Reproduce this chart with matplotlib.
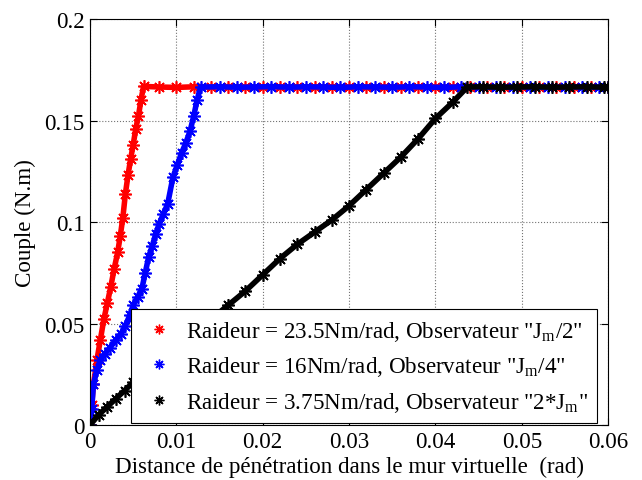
import matplotlib
matplotlib.use("Agg")
import matplotlib.pyplot as plt
from matplotlib.lines import Line2D

plt.rcParams['font.family'] = ['Liberation Serif', 'DejaVu Serif']
plt.rcParams['mathtext.fontset'] = 'custom'
plt.rcParams['mathtext.rm'] = 'Liberation Serif'
plt.rcParams['mathtext.it'] = 'Liberation Serif'

# data
red_x = [0, 0.0002, 0.0004, 0.0008, 0.0012, 0.0016, 0.0020, 0.0024, 0.0028, 0.0032,
         0.0035, 0.0038, 0.0041, 0.0044, 0.0047, 0.0050, 0.0053, 0.0056, 0.0059, 0.0062,
         0.0080, 0.0100, 0.0120, 0.0140, 0.0160, 0.0180, 0.0200, 0.0220, 0.0240, 0.0260,
         0.0280, 0.0300, 0.0320, 0.0340, 0.0360, 0.0380, 0.0400, 0.0420, 0.0440, 0.0460,
         0.0480, 0.0500, 0.0520, 0.0540, 0.0560, 0.0580, 0.0600]
red_y = [0, 0.010, 0.020, 0.032, 0.042, 0.052, 0.060, 0.068, 0.077, 0.085,
         0.093, 0.102, 0.114, 0.123, 0.131, 0.138, 0.146, 0.152, 0.160, 0.1668,
         0.1665, 0.1663, 0.1666, 0.1664, 0.1667, 0.1665, 0.1663, 0.1666, 0.1665, 0.1664,
         0.1666, 0.1665, 0.1663, 0.1666, 0.1665, 0.1664, 0.1666, 0.1665, 0.1663, 0.1666,
         0.1665, 0.1664, 0.1666, 0.1665, 0.1663, 0.1666, 0.1665]

blue_x = [0, 0.0002, 0.0004, 0.0008, 0.0012, 0.0017, 0.0023, 0.0030, 0.0036, 0.0041,
          0.0046, 0.0050, 0.0055, 0.0060, 0.0064, 0.0068, 0.0072, 0.0076, 0.0080, 0.0085,
          0.0090, 0.0096, 0.0101, 0.0106, 0.0111, 0.0116, 0.0120, 0.0124, 0.0128,
          0.0150, 0.0170, 0.0190, 0.0210, 0.0230, 0.0250, 0.0270, 0.0290, 0.0310, 0.0330,
          0.0350, 0.0370, 0.0390, 0.0410, 0.0430, 0.0450, 0.0470, 0.0490, 0.0510, 0.0530,
          0.0550, 0.0570, 0.0590, 0.0600]
blue_y = [0, 0.008, 0.020, 0.027, 0.032, 0.035, 0.038, 0.042, 0.045, 0.049,
          0.054, 0.059, 0.063, 0.067, 0.075, 0.083, 0.088, 0.094, 0.099, 0.104,
          0.109, 0.122, 0.128, 0.134, 0.139, 0.145, 0.152, 0.160, 0.1665,
          0.1666, 0.1664, 0.1665, 0.1667, 0.1664, 0.1666, 0.1665, 0.1663, 0.1666, 0.1665,
          0.1664, 0.1666, 0.1665, 0.1663, 0.1666, 0.1665, 0.1664, 0.1666, 0.1665, 0.1663,
          0.1666, 0.1665, 0.1664, 0.1665]

black_x = [0, 0.0010, 0.0020, 0.0030, 0.0040, 0.0050, 0.0060, 0.0080, 0.0100, 0.0120,
           0.0140, 0.0160, 0.0180, 0.0200, 0.0220, 0.0240, 0.0260, 0.0280, 0.0300, 0.0320,
           0.0340, 0.0360, 0.0380, 0.0400, 0.0420, 0.0437, 0.0455, 0.0475, 0.0495, 0.0515,
           0.0535, 0.0555, 0.0575, 0.0595, 0.0600]
black_y = [0, 0.005, 0.009, 0.013, 0.017, 0.021, 0.024, 0.031, 0.038, 0.045,
           0.052, 0.059, 0.066, 0.074, 0.082, 0.089, 0.095, 0.101, 0.108, 0.116,
           0.124, 0.132, 0.141, 0.151, 0.159, 0.1665, 0.1666, 0.1664, 0.1665, 0.1666,
           0.1664, 0.1665, 0.1666, 0.1664, 0.1665]

labels = ['Raideur = 23.5Nm/rad, Observateur "J$_{\\rm m}$/2"',
          'Raideur = 16Nm/rad, Observateur "J$_{\\rm m}$/4"',
          'Raideur = 3.75Nm/rad, Observateur "2*J$_{\\rm m}$"']
colors = ['#ff0000', '#0000ff', '#000000']
x_ticks = [0, 0.01, 0.02, 0.03, 0.04, 0.05, 0.06]
x_ticklabels = ['0', '0.01', '0.02', '0.03', '0.04', '0.05', '0.06']
y_ticks = [0, 0.05, 0.1, 0.15, 0.2]
y_ticklabels = ['0', '0.05', '0.1', '0.15', '0.2']

star = (8, 2, 0)
FS = 16.6

fig = plt.figure(figsize=(6.42, 4.81), dpi=100)
ax = fig.add_axes([0.1402, 0.1143, 0.807, 0.8441])

for xs, ys, c in zip([red_x, blue_x, black_x], [red_y, blue_y, black_y], colors):
    ax.plot(xs, ys, color=c, lw=4, marker=star, ms=9, mew=1.2, solid_capstyle='butt')

ax.set_xlim(0, 0.06)
ax.set_ylim(0, 0.2)
ax.set_xticks(x_ticks)
ax.set_xticklabels(x_ticklabels)
ax.set_yticks(y_ticks)
ax.set_yticklabels(y_ticklabels)
ax.tick_params(direction='in', top=True, right=True, labelsize=FS, length=5, pad=4)
ax.grid(True, linestyle=':', color='0.45', lw=0.8)
for s in ax.spines.values():
    s.set_linewidth(0.8)

ax.set_xlabel('Distance de pénétration dans le mur virtuelle  (rad)', fontsize=FS, labelpad=3)
ax.set_ylabel('Couple (N.m)', fontsize=FS, labelpad=6)

handles = [Line2D([], [], ls='none', marker=star, color=c, ms=7, mew=1.0) for c in colors]
leg = ax.legend(handles, labels, loc='lower right', bbox_to_anchor=(0.979, 0.005),
                borderaxespad=0, fontsize=FS, fancybox=False, framealpha=1,
                edgecolor='black', handlelength=1.7, handletextpad=0.3,
                labelspacing=0.5, borderpad=0.4)
leg.get_frame().set_linewidth(0.8)

fig.savefig('out.png', dpi=100)
